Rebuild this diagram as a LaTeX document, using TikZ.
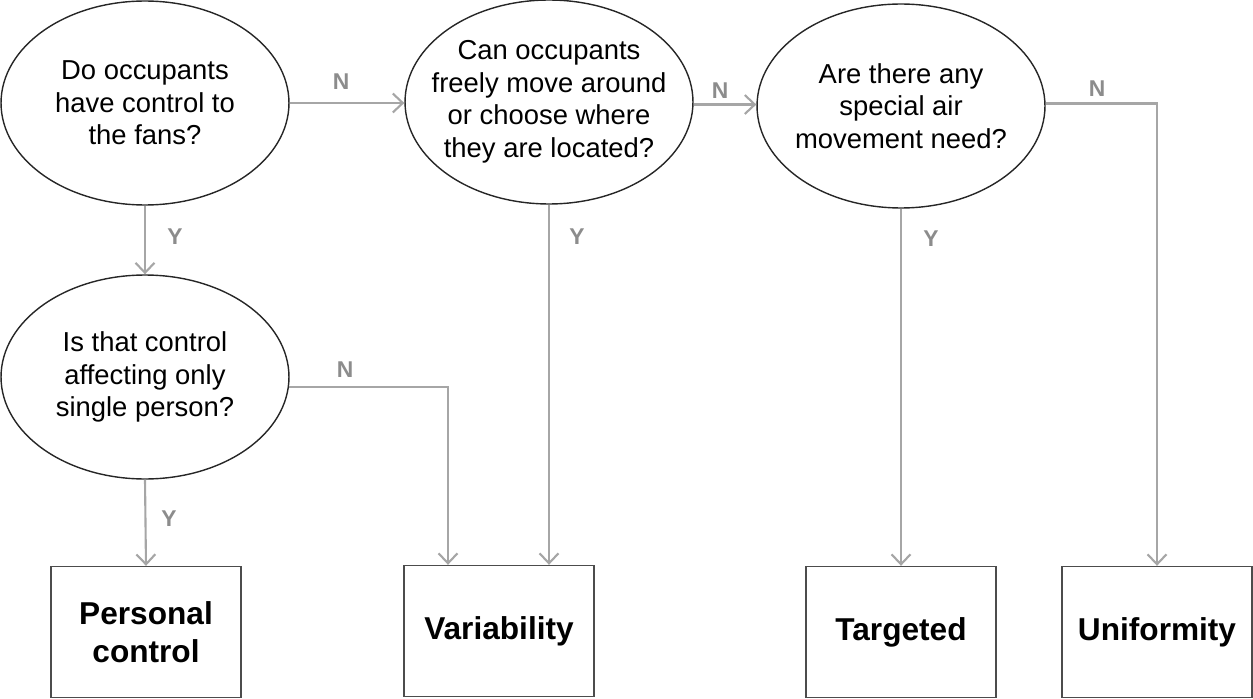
\documentclass[tikz,border=0pt]{standalone}
\usepackage{fontspec}
\setmainfont{Liberation Sans}
\usetikzlibrary{shapes.geometric,arrows.meta}
\definecolor{linegray}{HTML}{A6A6A6}
\definecolor{labelgray}{HTML}{8C8C8C}
\begin{document}
\begin{tikzpicture}[x=0.02cm,y=-0.02cm]
    \tikzset{question/.style={ellipse,draw=black!85,line width=0.8pt,minimum width=5.76cm,minimum height=4.08cm,inner xsep=-1cm,inner ysep=-0.6cm,align=center,font=\fontsize{15.6}{18.5}\selectfont}}
    \tikzset{outcome/.style={rectangle,draw=black!70,line width=0.8pt,minimum width=3.8cm,minimum height=2.62cm,align=center,font=\fontsize{18}{21.5}\selectfont\bfseries}}
    \tikzset{flow/.style={linegray,line width=1.2pt,-{Straight Barb[length=0.2cm,width=0.38cm]}}}
    \tikzset{answer/.style={labelgray,font=\fontsize{13}{15}\selectfont\bfseries}}
    \useasboundingbox (0,0) rectangle (1253,699);
    \node[question] (fans) at (145,103) {Do occupants\\have control to\\the fans?};
    \node[question] (move) at (549,102) {Can occupants\\freely move around\\or choose where\\they are located?};
    \node[question] (air) at (901,106) {Are there any\\special air\\movement need?};
    \node[question] (single) at (145,377) {Is that control\\affecting only\\single person?};
    \node[outcome] (personal) at (146,632) {Personal\\control};
    \node[outcome] (variability) at (499,631) {Variability};
    \node[outcome] (targeted) at (901,632) {Targeted};
    \node[outcome] (uniformity) at (1157,632) {Uniformity};
    \coordinate (vin) at (448,0);
    \draw[flow] (fans.east) -- (fans.east -| move.west);
    \draw[flow] (move.-1) -- (move.-1 -| air.west);
    \draw[flow] (air.1) -| (uniformity.north);
    \draw[flow] (fans.south) -- (single.north);
    \draw[flow] (single.-4) -| (vin |- variability.north);
    \draw[flow] (move.south) -- (move.south |- variability.north);
    \draw[flow] (air.south) -- (targeted.north);
    \draw[flow] (single.south) -- (personal.north);
    \node[answer] (n1) at (341,82) {N};
    \node[answer] (n2) at (720,91) {N};
    \node[answer] (n3) at (1097,89) {N};
    \node[answer] (n4) at (345,370) {N};
    \node[answer] (y1) at (175,237) {Y};
    \node[answer] (y2) at (577,237) {Y};
    \node[answer] (y3) at (931,239) {Y};
    \node[answer] (y4) at (169,519) {Y};
\end{tikzpicture}
\end{document}
